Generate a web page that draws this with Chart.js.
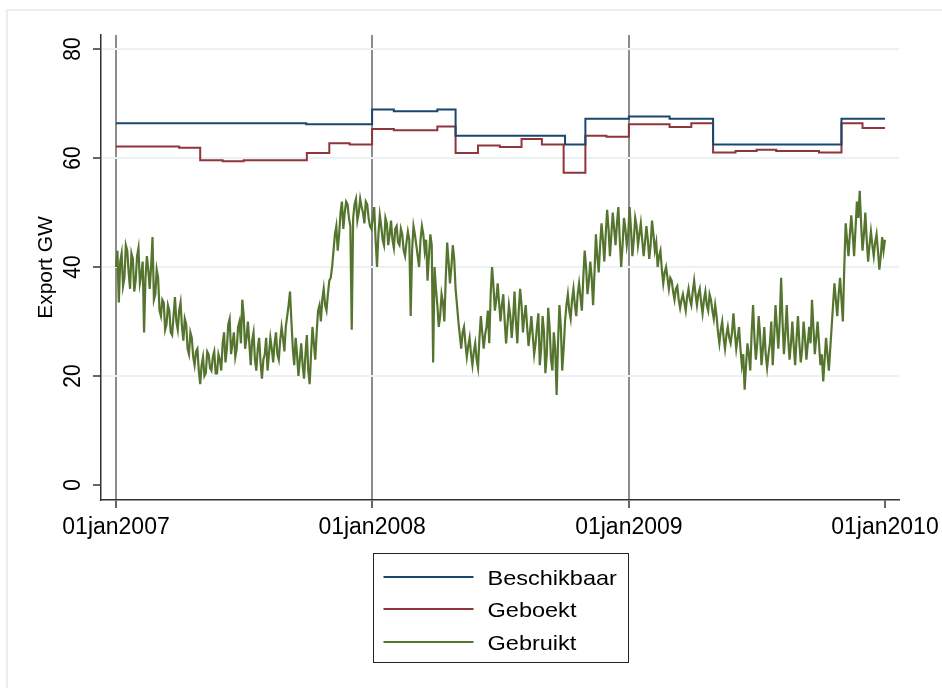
<!DOCTYPE html>
<html><head><meta charset="utf-8">
<script src="https://cdn.jsdelivr.net/npm/chart.js@4.4.1/dist/chart.umd.min.js"></script>
<style>html,body{margin:0;padding:0;background:#fff;} #wrap{width:942px;height:688px;position:relative;background:#fff;}</style>
</head><body><div id="wrap"><canvas id="c" width="942" height="688"></canvas></div>
<script>
const FONT = "'Liberation Sans', Arial, sans-serif";
const xTickDays = [0, 365, 731, 1096];
const xTickLabels = ['01jan2007', '01jan2008', '01jan2009', '01jan2010'];
const yTickValues = [0, 20, 40, 60, 80];
const yTickLabels = ['0', '20', '40', '60', '80'];
const seriesLabels = ['Beschikbaar', 'Geboekt', 'Gebruikt'];
const seriesColors = ['#1a476f', '#90353b', '#55752f'];

// Beschikbaar: step changes (day since 01jan2007, value)
const beschikbaarDays = [0, 271, 365, 396, 458, 484, 640, 669, 731, 789, 851, 1034, 1096];
const beschikbaarValues = [66.4, 66.2, 68.9, 68.6, 68.9, 64.1, 62.5, 67.2, 67.6, 67.2, 62.5, 67.2, 67.2];

// Geboekt: step changes
const geboektDays = [0, 90, 120, 152, 182, 272, 304, 333, 365, 396, 458, 484, 516, 547, 578, 607, 638, 669, 699, 731, 789, 820, 851, 883, 913, 941, 1002, 1034, 1064, 1096];
const geboektValues = [62.1, 61.9, 59.6, 59.4, 59.6, 60.9, 62.7, 62.5, 65.3, 65.1, 65.8, 60.9, 62.3, 62.0, 63.5, 62.5, 57.3, 64.1, 63.9, 66.2, 65.7, 66.4, 61.0, 61.3, 61.5, 61.3, 61.0, 66.4, 65.5, 65.5];

// Gebruikt: read every 2 days from 01jan2007 (day 0) to 01jan2010 (day 1096)
const gebruiktStep = 2;
const gebruiktValues = [
  // d0-52
  40, 43, 33.5, 41, 42.5, 36.5, 38, 44, 43, 39, 36, 42.5, 41.5, 35.5, 37.5, 42, 43.5, 37, 38.5, 41, 28, 38, 42, 39.5, 36, 40, 45.5,
  // d54-62
  34, 35, 39.5, 38, 32,
  // d64-94
  31, 34, 33.5, 28.5, 29.5, 33, 32, 28, 27.5, 31, 34.5, 30, 28.5, 32, 33.5, 29,
  // d96-110
  26.5, 30.5, 29.5, 25, 24, 28, 27, 23.5,
  // d112-132
  22, 24.5, 25, 21, 18.5, 22, 23.5, 20, 20.5, 24.5, 24,
  // d134-150
  21.5, 21, 23.5, 24.5, 20.5, 20.5, 24, 23, 21,
  // d152-186
  26, 28, 22.5, 25, 29.5, 30.5, 24, 26, 28, 23.5, 25, 29, 30, 26, 34, 31, 25, 27,
  // d188-212
  30, 26, 22, 26.5, 28, 23, 21, 25, 27, 22.5, 19.5, 23, 24,
  // d214-240
  27, 21, 24, 27, 25, 22.5, 26, 28, 24, 23, 26.5, 29, 27, 24.5,
  // d242-252
  29, 31, 33, 35.5, 30, 25,
  // d254-278
  22, 27, 24, 20, 23, 26, 22, 19.5, 24, 27.5, 21, 18.5, 24,
  // d280-288
  29, 26, 23, 28, 32,
  // d290-306
  33, 30, 34, 36, 33, 32, 35, 37.5, 38,
  // d308-318
  40, 43, 46, 47.5, 43, 46,
  // d320-362
  50, 52, 47, 50, 52, 51.5, 49, 47.5, 28.5, 49, 51.5, 52.5, 48.5, 50, 52.5, 51, 50, 48, 52, 51.5, 49, 47.5,
  // d364-402
  47, 49, 51, 45, 40, 46, 49.5, 47.5, 45, 44, 49, 48, 44, 46, 48.5, 45, 43.5, 47, 47.5, 44.5,
  // d404-454
  44, 47, 46, 43, 42, 44.5, 46.5, 45, 31, 43, 47.5, 46, 44, 42, 40, 45, 47.5, 46, 43, 45, 37.5, 42, 46, 44, 22.5, 40,
  // d456-470
  36, 33, 29, 31, 35, 33.5, 30, 38,
  // d472-486
  44.5, 41, 37, 40, 44, 41.5, 36, 33,
  // d488-518
  30, 27.5, 25, 28, 29, 26, 23.5, 25.5, 27, 24, 22, 24.5, 26, 23, 21.5, 27,
  // d520-532
  31, 28, 25, 27.5, 29, 32, 26,
  // d534-550
  35, 40, 36.5, 32, 34, 37, 33.5, 30, 33,
  // d552-568
  35, 30, 26, 29.5, 33, 31, 27, 30.5, 35.5,
  // d570-598
  30, 26, 32, 36, 33, 28, 31, 33, 29, 25.5, 28, 31, 27.5, 24, 26,
  // d600-630
  29, 31.5, 22, 25, 31, 28, 20.5, 24, 32.5, 29, 23, 21, 28, 25, 16.5, 26,
  // d632-642
  33, 29, 21, 25, 30, 33,
  // d644-666
  35, 32, 30.5, 34, 36, 33, 31, 35, 37, 34.5, 32, 38,
  // d668-682
  43, 40, 35, 37.5, 41, 38, 33, 39,
  // d684-702
  46, 42, 39, 44, 48, 45, 41, 46, 50.5, 47,
  // d704-730
  42, 46, 50, 47, 44, 48, 51, 45, 40, 44, 49, 47, 44, 46,
  // d732-746
  51, 47, 42, 45, 49, 47.5, 44, 46,
  // d748-770
  48, 45, 42, 44.5, 47.5, 45, 41.5, 44, 48.5, 46, 43, 44.5,
  // d772-790
  40, 42, 43, 39.5, 37, 39, 40, 38, 36, 38,
  // d792-822
  37.5, 35.5, 34, 36, 36.5, 34, 32.5, 34, 35, 33.5, 32, 34.5, 36, 34, 33, 35.5,
  // d824-854
  37.5, 35, 33, 35, 36, 33.5, 31.5, 34, 35.5, 33, 32, 35, 34, 32, 30.5, 33,
  // d856-886
  31, 28, 26, 28.5, 30, 27, 25, 27.5, 29, 27, 26, 28, 31.5, 28, 25, 27,
  // d888-906
  29, 25, 22, 24, 17.5, 22, 26, 24, 21, 28,
  // d908-934
  33, 27, 23, 26, 31, 27.5, 22, 25, 29, 24, 21.5, 24, 26, 30,
  // d936-968
  22, 27, 33, 29, 25, 30, 38, 30, 24, 28, 33, 27, 23, 26, 30, 25.5, 22,
  // d970-1006
  27, 31, 26, 22.5, 25, 30, 27, 23, 26, 29, 26, 34, 29, 24, 27, 30, 26, 22, 24,
  // d1008-1020
  19, 23, 27, 24, 21, 25, 29,
  // d1022-1036
  33, 37, 34, 31, 35, 38, 34, 30,
  // d1038-1050
  40, 48, 45, 42, 46, 49.5, 46,
  // d1052-1068
  42, 47, 52, 49, 54, 48, 43, 46, 50,
  // d1070-1096
  45, 41, 44, 46.5, 44, 42, 44.5, 46, 43, 39.5, 42, 45.5, 43, 45
];

const toPoints = (days, vals) => days.map((d, i) => ({x: d, y: vals[i]}));

// the reference picture is slightly stretched horizontally
const HSTRETCH = 1.12;

const framePlugin = {
  id: 'frame',
  beforeDraw(chart) {
    const ctx = chart.ctx;
    ctx.save();
    ctx.fillStyle = '#ffffff';
    ctx.fillRect(0, 0, chart.width, chart.height);
    ctx.strokeStyle = '#e8eff1';
    ctx.lineWidth = 2;
    ctx.strokeRect(7, 10, 960, 720);
    ctx.restore();
  }
};

const yLabelsPlugin = {
  id: 'yLabels',
  afterDraw(chart) {
    const ys = chart.scales.y;
    const ctx = chart.ctx;
    ctx.save();
    ctx.fillStyle = '#000';
    ctx.font = "21px " + FONT;
    ctx.textAlign = 'center';
    ctx.textBaseline = 'alphabetic';
    yTickValues.forEach((v, i) => {
      const py = ys.getPixelForValue(v);
      ctx.save();
      ctx.translate(ys.right - 21, py);
      ctx.scale(HSTRETCH, 1);
      ctx.rotate(-Math.PI / 2);
      ctx.fillText(yTickLabels[i], 0, 0);
      ctx.restore();
    });
    ctx.restore();
  }
};

const legendPlugin = {
  id: 'boxLegend',
  afterDraw(chart) {
    const ctx = chart.ctx;
    const ca = chart.chartArea;
    const cx = (ca.left + ca.right) / 2;
    const w = 255, h = 109;
    const left = Math.round(cx - w / 2) + 0.5;
    const top = 553.5;
    ctx.save();
    ctx.strokeStyle = '#222';
    ctx.lineWidth = 1;
    ctx.strokeRect(left, top, w, h);
    const rowsY = [577, 609, 642];
    ctx.font = "21px " + FONT;
    ctx.textAlign = 'left';
    ctx.textBaseline = 'alphabetic';
    chart.data.datasets.forEach((ds, i) => {
      ctx.strokeStyle = ds.borderColor;
      ctx.lineWidth = 2;
      ctx.beginPath();
      ctx.moveTo(left + 10, rowsY[i]);
      ctx.lineTo(left + 100, rowsY[i]);
      ctx.stroke();
      ctx.save();
      ctx.translate(left + 114, rowsY[i] + 8);
      ctx.scale(HSTRETCH, 1);
      ctx.fillStyle = '#000';
      ctx.fillText(ds.label, 0, 0);
      ctx.restore();
    });
    ctx.restore();
  }
};

const ctx = document.getElementById('c').getContext('2d');
new Chart(ctx, {
  type: 'line',
  data: {
    datasets: [
      {label: seriesLabels[0], data: toPoints(beschikbaarDays, beschikbaarValues), borderColor: seriesColors[0], borderWidth: 2, pointRadius: 0, stepped: 'before', fill: false},
      {label: seriesLabels[1], data: toPoints(geboektDays, geboektValues), borderColor: seriesColors[1], borderWidth: 2, pointRadius: 0, stepped: 'before', fill: false},
      {label: seriesLabels[2], data: gebruiktValues.map((v, i) => ({x: i * gebruiktStep, y: v})), borderColor: seriesColors[2], borderWidth: 2.2, pointRadius: 0, tension: 0, fill: false}
    ]
  },
  options: {
    responsive: false,
    animation: false,
    layout: {padding: {top: 35, right: 43, left: 0, bottom: 0}},
    plugins: {legend: {display: false}, tooltip: {enabled: false}},
    scales: {
      x: {
        type: 'linear', min: -21.4, max: 1116, z: 1,
        afterBuildTicks: s => { s.ticks = xTickDays.map(v => ({value: v})); },
        afterFit: s => { s.height = 188; s.paddingLeft = 0; s.paddingRight = 0; },
        ticks: {
          autoSkip: false, maxRotation: 0, minRotation: 0, padding: 6, color: '#000',
          font: {family: FONT, size: 23},
          callback: v => { const i = xTickDays.indexOf(v); return i >= 0 ? xTickLabels[i] : ''; }
        },
        grid: {
          color: c => (c.tick && c.tick.value === 1096) ? 'rgba(0,0,0,0)' : '#8c8c8c',
          lineWidth: 2, drawTicks: true, tickLength: 8, tickColor: '#333', tickWidth: 1.5
        },
        border: {display: true, color: '#333', width: 1.5}
      },
      y: {
        type: 'linear', min: -2.75, max: 82.57,
        afterBuildTicks: s => { s.ticks = yTickValues.map(v => ({value: v})); },
        afterFit: s => { s.width = 101; s.paddingTop = 0; s.paddingBottom = 0; },
        ticks: {display: false},
        grid: {
          color: c => (c.tick && c.tick.value === 0) ? 'rgba(0,0,0,0)' : '#eaf2f3',
          lineWidth: 2, drawTicks: true, tickLength: 8, tickColor: '#333', tickWidth: 1.5
        },
        border: {display: true, color: '#333', width: 1.5},
        title: {display: true, text: 'Export GW', color: '#000', font: {family: FONT, size: 21}, padding: {top: 34, bottom: 0}}
      }
    }
  },
  plugins: [framePlugin, yLabelsPlugin, legendPlugin]
});
</script>
</body></html>
